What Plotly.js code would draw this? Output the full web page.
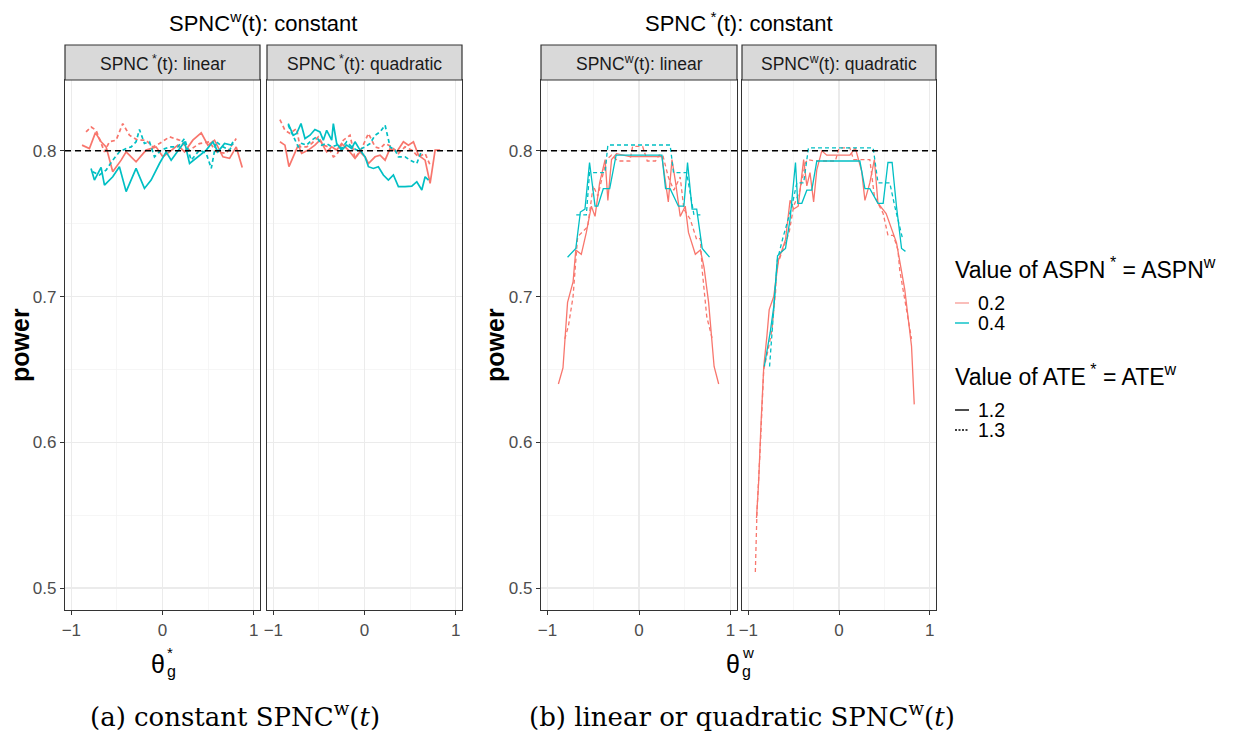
<!DOCTYPE html>
<html>
<head>
<meta charset="utf-8">
<script src="https://cdn.plot.ly/plotly-3.0.1.min.js"></script>
<style>
html,body{margin:0;padding:0;background:#fff;}
#chart{width:1246px;height:735px;}
</style>
</head>
<body>
<div id="chart"></div>
<script>
// ---------------- DATA ----------------
// Panel 1: SPNC^w constant, SPNC* linear  (x = theta_g^*)
var p1_r12_x = [-0.883,-0.802,-0.736,-0.674,-0.619,-0.546,-0.454,-0.399,-0.290,-0.180,-0.070,0.004,0.077,0.168,0.242,0.333,0.425,0.498,0.571,0.663,0.736,0.809,0.875];
var p1_r12_y = [0.8039,0.8016,0.8125,0.8062,0.8027,0.7856,0.7936,0.7993,0.7925,0.8005,0.8027,0.7959,0.7993,0.8039,0.7993,0.8073,0.8123,0.8039,0.8073,0.7959,0.7948,0.8027,0.7886];
var p1_r13_x = [-0.839,-0.784,-0.729,-0.637,-0.583,-0.509,-0.436,-0.363,-0.271,-0.180,-0.106,-0.033,0.077,0.187,0.297,0.406,0.516,0.590,0.700,0.809];
var p1_r13_y = [0.8130,0.8164,0.8141,0.7993,0.8062,0.8073,0.8187,0.8107,0.8073,0.8073,0.8027,0.8050,0.8096,0.8073,0.8005,0.8050,0.8062,0.7993,0.7982,0.8084];
var p1_c12_x = [-0.784,-0.747,-0.674,-0.637,-0.546,-0.473,-0.399,-0.290,-0.198,-0.125,-0.033,0.040,0.095,0.150,0.242,0.297,0.388,0.480,0.553,0.608,0.681,0.755,0.773];
var p1_c12_y = [0.7879,0.7799,0.7886,0.7765,0.7822,0.7891,0.7720,0.7879,0.7742,0.7799,0.7913,0.7993,0.7936,0.7982,0.8062,0.7913,0.7959,0.8005,0.8062,0.7993,0.8050,0.8039,0.8062];
var p1_c13_x = [-0.766,-0.692,-0.619,-0.546,-0.473,-0.399,-0.344,-0.290,-0.253,-0.198,-0.143,-0.088,-0.015,0.077,0.168,0.242,0.315,0.406,0.480,0.535,0.590,0.663,0.736,0.773];
var p1_c13_y = [0.7856,0.7834,0.7868,0.7936,0.7993,0.8016,0.8027,0.8062,0.8146,0.8050,0.8062,0.7959,0.8005,0.8027,0.8027,0.8084,0.7936,0.8005,0.7982,0.7879,0.8062,0.8027,0.8005,0.8050];

// Panel 2: SPNC^w constant, SPNC* quadratic
var p2_r12_x = [-0.928,-0.873,-0.829,-0.782,-0.727,-0.690,-0.617,-0.544,-0.489,-0.415,-0.360,-0.305,-0.251,-0.177,-0.104,-0.049,0.006,0.043,0.116,0.171,0.226,0.281,0.354,0.427,0.482,0.537,0.592,0.665,0.720,0.775,0.830];
var p2_r12_y = [0.8062,0.8039,0.7891,0.7959,0.8039,0.7982,0.8005,0.8039,0.8073,0.7993,0.8027,0.8005,0.8050,0.8005,0.7948,0.7993,0.7959,0.7913,0.7959,0.7970,0.7936,0.8016,0.7993,0.8062,0.8039,0.8062,0.7970,0.7936,0.7777,0.8005,0.8005];
var p2_r13_x = [-0.928,-0.873,-0.818,-0.745,-0.708,-0.635,-0.580,-0.507,-0.452,-0.397,-0.342,-0.305,-0.232,-0.159,-0.104,-0.031,0.043,0.116,0.171,0.226,0.299,0.372,0.445,0.519,0.592,0.665,0.720,0.739];
var p2_r13_y = [0.8214,0.8141,0.8119,0.8153,0.8027,0.8027,0.8050,0.8096,0.8039,0.8027,0.7959,0.7970,0.8073,0.8107,0.7948,0.8016,0.8119,0.8027,0.8016,0.8050,0.8027,0.7982,0.8027,0.8005,0.7959,0.7982,0.7902,0.7895];
var p2_c12_x = [-0.837,-0.782,-0.745,-0.697,-0.653,-0.598,-0.544,-0.489,-0.452,-0.415,-0.360,-0.342,-0.305,-0.251,-0.196,-0.141,-0.104,-0.049,0.006,0.043,0.097,0.152,0.207,0.262,0.317,0.372,0.445,0.519,0.574,0.629,0.665,0.702];
var p2_c12_y = [0.8187,0.8107,0.8119,0.8187,0.8084,0.8107,0.8146,0.8130,0.8073,0.8141,0.8073,0.8187,0.8050,0.8005,0.8039,0.8016,0.8062,0.8005,0.7959,0.7891,0.7879,0.7891,0.7834,0.7799,0.7834,0.7754,0.7754,0.7758,0.7788,0.7731,0.7822,0.7799];
var p2_c13_x = [-0.837,-0.782,-0.727,-0.690,-0.635,-0.580,-0.525,-0.470,-0.415,-0.360,-0.305,-0.251,-0.196,-0.141,-0.086,-0.031,0.006,0.061,0.116,0.171,0.226,0.281,0.336,0.372,0.445,0.500,0.574,0.629];
var p2_c13_y = [0.8176,0.8096,0.8027,0.8050,0.8039,0.8073,0.8096,0.8039,0.8050,0.8027,0.8039,0.8016,0.8062,0.8027,0.8005,0.8016,0.8027,0.8050,0.8107,0.8130,0.8176,0.8027,0.8005,0.7959,0.7959,0.7936,0.7913,0.8005];

// Panel 3: SPNC* constant, SPNC^w linear  (x = theta_g^w)
var p3_r12_x = [-0.88,-0.83,-0.78,-0.72,-0.69,-0.63,-0.575,-0.52,-0.48,-0.43,-0.37,-0.34,-0.30,-0.245,-0.10,0.10,0.25,0.32,0.36,0.40,0.45,0.505,0.54,0.615,0.67,0.71,0.76,0.82,0.87];
var p3_r12_y = [0.640,0.651,0.696,0.710,0.732,0.729,0.744,0.762,0.755,0.778,0.794,0.766,0.794,0.798,0.796,0.796,0.796,0.765,0.794,0.778,0.755,0.762,0.744,0.729,0.732,0.720,0.696,0.652,0.640];
var p3_r13_x = [-0.81,-0.77,-0.72,-0.67,-0.56,-0.50,-0.45,-0.39,-0.355,-0.30,-0.23,-0.10,-0.07,0.04,0.09,0.18,0.22,0.26,0.32,0.38,0.45,0.49,0.56,0.63,0.67,0.69,0.74,0.80];
var p3_r13_y = [0.671,0.680,0.700,0.741,0.748,0.776,0.769,0.785,0.794,0.797,0.793,0.793,0.803,0.803,0.793,0.793,0.797,0.797,0.782,0.773,0.782,0.760,0.753,0.739,0.740,0.718,0.686,0.671];
var p3_c12_x = [-0.78,-0.69,-0.64,-0.59,-0.54,-0.48,-0.45,-0.39,-0.32,-0.25,0.25,0.29,0.34,0.43,0.49,0.53,0.58,0.63,0.69,0.77];
var p3_c12_y = [0.727,0.733,0.758,0.760,0.792,0.762,0.762,0.774,0.774,0.797,0.797,0.774,0.774,0.762,0.762,0.792,0.760,0.760,0.733,0.727];
var p3_c13_x = [-0.685,-0.575,-0.54,-0.37,-0.34,0.34,0.377,0.52,0.60,0.67];
var p3_c13_y = [0.756,0.756,0.785,0.785,0.804,0.804,0.785,0.785,0.756,0.756];

// Panel 4: SPNC* constant, SPNC^w quadratic
var p4_r12_x = [-0.91,-0.887,-0.86,-0.83,-0.795,-0.77,-0.72,-0.68,-0.667,-0.59,-0.54,-0.50,-0.45,-0.39,-0.355,-0.32,-0.28,-0.245,-0.19,-0.135,0.12,0.18,0.25,0.286,0.34,0.39,0.43,0.52,0.58,0.634,0.725,0.76,0.80,0.83];
var p4_r12_y = [0.548,0.572,0.613,0.652,0.673,0.691,0.700,0.718,0.725,0.739,0.766,0.760,0.762,0.794,0.776,0.785,0.765,0.787,0.800,0.797,0.797,0.802,0.786,0.766,0.778,0.794,0.764,0.757,0.746,0.737,0.705,0.686,0.666,0.626];
var p4_r13_x = [-0.923,-0.905,-0.87,-0.83,-0.78,-0.74,-0.70,-0.685,-0.55,-0.50,-0.43,-0.37,-0.34,-0.26,-0.04,0.00,0.12,0.16,0.34,0.39,0.487,0.54,0.60,0.65,0.67,0.744,0.80];
var p4_r13_y = [0.511,0.552,0.595,0.650,0.664,0.677,0.703,0.721,0.744,0.762,0.773,0.792,0.794,0.793,0.793,0.802,0.802,0.794,0.794,0.769,0.757,0.742,0.742,0.732,0.718,0.691,0.671];
var p4_c12_x = [-0.824,-0.76,-0.72,-0.678,-0.63,-0.59,-0.54,-0.48,-0.455,-0.41,-0.355,-0.30,-0.245,0.23,0.286,0.34,0.43,0.487,0.54,0.586,0.634,0.69,0.733];
var p4_c12_y = [0.652,0.675,0.693,0.728,0.731,0.733,0.753,0.792,0.764,0.764,0.773,0.773,0.793,0.793,0.774,0.774,0.764,0.764,0.792,0.792,0.762,0.733,0.731];
var p4_c13_x = [-0.766,-0.72,-0.68,-0.62,-0.52,-0.465,-0.39,-0.337,0.377,0.43,0.56,0.615,0.70];
var p4_c13_y = [0.652,0.690,0.725,0.740,0.762,0.778,0.778,0.802,0.802,0.778,0.778,0.762,0.740];

var targetPower = 0.8;
var yTickVals = [0.5, 0.6, 0.7, 0.8];
var yTickText = ["0.5", "0.6", "0.7", "0.8"];
var xTickVals = [-1, 0, 1];
var xTickText = ["\u22121", "0", "1"];
var aspnLevels = ["0.2", "0.4"];
var ateLevels = ["1.2", "1.3"];

var panelTitles = ["SPNC<sup> *</sup>(t): linear", "SPNC<sup> *</sup>(t): quadratic",
                   "SPNC<sup>w</sup>(t): linear", "SPNC<sup>w</sup>(t): quadratic"];
var groupTitles = ["SPNC<sup>w</sup>(t): constant", "SPNC<sup> *</sup>(t): constant"];
var captions = ["(a) constant SPNC<sup>w</sup>(<i>t</i>)", "(b) linear or quadratic SPNC<sup>w</sup>(<i>t</i>)"];

// ---------------- STYLE / LAYOUT ----------------
var W = 1246, H = 735;
function fx(p){ return p / W; }
function fy(p){ return 1 - p / H; }
var RED = "#F8766D", CYAN = "#00BFC4";
var FONT = "Liberation Sans, Arial, sans-serif";

var panels = [
  {x0: 65,  x1: 260, data: [[p1_r12_x,p1_r12_y,RED,"solid"],[p1_r13_x,p1_r13_y,RED,"dash"],[p1_c12_x,p1_c12_y,CYAN,"solid"],[p1_c13_x,p1_c13_y,CYAN,"dash"]], lw: 1.7, yl: true},
  {x0: 267, x1: 462, data: [[p2_r12_x,p2_r12_y,RED,"solid"],[p2_r13_x,p2_r13_y,RED,"dash"],[p2_c12_x,p2_c12_y,CYAN,"solid"],[p2_c13_x,p2_c13_y,CYAN,"dash"]], lw: 1.7, yl: false},
  {x0: 541, x1: 737, data: [[p3_r12_x,p3_r12_y,RED,"solid"],[p3_r13_x,p3_r13_y,RED,"dash"],[p3_c12_x,p3_c12_y,CYAN,"solid"],[p3_c13_x,p3_c13_y,CYAN,"dash"]], lw: 1.3, yl: true},
  {x0: 742, x1: 936, data: [[p4_r12_x,p4_r12_y,RED,"solid"],[p4_r13_x,p4_r13_y,RED,"dash"],[p4_c12_x,p4_c12_y,CYAN,"solid"],[p4_c13_x,p4_c13_y,CYAN,"dash"]], lw: 1.3, yl: false}
];
var plotTop = 80, plotBot = 610, stripTop = 45;

var traces = [];
var layout = {
  width: W, height: H,
  margin: {l:0, r:0, t:0, b:0},
  paper_bgcolor: "#fff", plot_bgcolor: "#fff",
  showlegend: false,
  font: {family: FONT, color: "#000"},
  shapes: [], annotations: []
};

panels.forEach(function(p, i){
  var n = i + 1;
  var xa = n === 1 ? "xaxis" : "xaxis" + n;
  var ya = n === 1 ? "yaxis" : "yaxis" + n;
  var xr = n === 1 ? "x" : "x" + n;
  var yr = n === 1 ? "y" : "y" + n;
  p.data.forEach(function(d){
    traces.push({x: d[0], y: d[1], type: "scatter", mode: "lines",
      xaxis: xr, yaxis: yr, hoverinfo: "skip",
      line: {color: d[2], width: p.lw, dash: d[3] === "dash" ? "4px,3px" : "solid"}});
  });
  layout[xa] = {
    domain: [fx(p.x0), fx(p.x1)], anchor: yr, range: [-1.07, 1.07],
    tickvals: xTickVals, ticktext: xTickText, ticks: "outside", ticklen: 4, tickcolor: "#333",
    tickfont: {family: FONT, size: 17, color: "#4d4d4d"},
    showgrid: true, gridcolor: "#ebebeb", gridwidth: 1.2, zeroline: false,
    minor: {tickvals: [-0.5, 0.5], showgrid: true, gridcolor: "#f4f4f4", gridwidth: 0.8, ticks: ""},
    showline: true, linecolor: "#333", linewidth: 1.2, mirror: true, fixedrange: true
  };
  layout[ya] = {
    domain: [fy(plotBot), fy(plotTop)], anchor: xr, range: [0.4849, 0.8486],
    tickvals: yTickVals, ticktext: yTickText, ticks: p.yl ? "outside" : "", ticklen: 4, tickcolor: "#333",
    showticklabels: p.yl,
    tickfont: {family: FONT, size: 17, color: "#4d4d4d"},
    showgrid: true, gridcolor: "#ebebeb", gridwidth: 1.2, zeroline: false,
    minor: {tickvals: [0.55, 0.65, 0.75], showgrid: true, gridcolor: "#f4f4f4", gridwidth: 0.8, ticks: ""},
    showline: true, linecolor: "#333", linewidth: 1.2, mirror: true, fixedrange: true
  };
  // reference line
  layout.shapes.push({type: "line", xref: xr + " domain", yref: yr, x0: 0, x1: 1,
    y0: targetPower, y1: targetPower, line: {color: "#000", width: 1.5, dash: "6px,4px"}});
  // strip
  layout.shapes.push({type: "rect", xref: "paper", yref: "paper",
    x0: fx(p.x0), x1: fx(p.x1), y0: fy(plotTop), y1: fy(stripTop),
    fillcolor: "#d9d9d9", line: {color: "#333", width: 1.2}});
  layout.annotations.push({xref: "paper", yref: "paper", x: fx((p.x0 + p.x1) / 2), y: fy(63),
    text: panelTitles[i], showarrow: false, xanchor: "center", yanchor: "middle",
    font: {family: FONT, size: 17.5, color: "#1a1a1a"}});
});

// group titles
layout.annotations.push({xref:"paper", yref:"paper", x: fx(263), y: fy(22), text: groupTitles[0],
  showarrow:false, xanchor:"center", yanchor:"middle", font:{family: FONT, size: 22, color:"#000"}});
layout.annotations.push({xref:"paper", yref:"paper", x: fx(739), y: fy(22), text: groupTitles[1],
  showarrow:false, xanchor:"center", yanchor:"middle", font:{family: FONT, size: 22, color:"#000"}});

// y axis titles
[20, 495].forEach(function(px){
  layout.annotations.push({xref:"paper", yref:"paper", x: fx(px), y: fy(345), text: "<b>power</b>",
    textangle: -90, showarrow:false, xanchor:"center", yanchor:"middle",
    font:{family: FONT, size: 25, color:"#000"}});
});

// x axis titles: theta with stacked super/subscripts
[[158, "*"], [733, "w"]].forEach(function(t){
  layout.annotations.push({xref:"paper", yref:"paper", x: fx(t[0]), y: fy(664), text: "\u03b8",
    showarrow:false, xanchor:"center", yanchor:"middle", font:{family: FONT, size: 25, color:"#000"}});
  layout.annotations.push({xref:"paper", yref:"paper", x: fx(t[0] + 7), y: fy(652), text: t[1],
    showarrow:false, xanchor:"left", yanchor:"middle", font:{family: FONT, size: 15, color:"#000"}});
  layout.annotations.push({xref:"paper", yref:"paper", x: fx(t[0] + 7), y: fy(671), text: "g",
    showarrow:false, xanchor:"left", yanchor:"middle", font:{family: FONT, size: 16, color:"#000"}});
});

// legend (drawn manually)
layout.annotations.push({xref:"paper", yref:"paper", x: fx(953), y: fy(268),
  text: "Value of ASPN<sup> *</sup> = ASPN<sup>w</sup>", showarrow:false, xanchor:"left", yanchor:"middle",
  font:{family: FONT, size: 23, color:"#000"}});
layout.annotations.push({xref:"paper", yref:"paper", x: fx(953), y: fy(375),
  text: "Value of ATE<sup> *</sup> = ATE<sup>w</sup>", showarrow:false, xanchor:"left", yanchor:"middle",
  font:{family: FONT, size: 23, color:"#000"}});
var legendItems = [
  [303, aspnLevels[0], "#F8A29C", "solid"],
  [323, aspnLevels[1], CYAN, "solid"],
  [410, ateLevels[0], "#000", "solid"],
  [430, ateLevels[1], "#000", "dot"]
];
legendItems.forEach(function(it){
  layout.shapes.push({type:"line", xref:"paper", yref:"paper", x0: fx(955), x1: fx(969),
    y0: fy(it[0]), y1: fy(it[0]), line:{color: it[2], width: 1.4, dash: it[3] === "dot" ? "2px,1.5px" : "solid"}});
  layout.annotations.push({xref:"paper", yref:"paper", x: fx(976), y: fy(it[0]), text: it[1],
    showarrow:false, xanchor:"left", yanchor:"middle", font:{family: FONT, size: 19.5, color:"#000"}});
});

// captions
layout.annotations.push({xref:"paper", yref:"paper", x: fx(235), y: fy(715), text: captions[0],
  showarrow:false, xanchor:"center", yanchor:"middle", font:{family: "DejaVu Serif, Liberation Serif, serif", size: 26, color:"#000"}});
layout.annotations.push({xref:"paper", yref:"paper", x: fx(742), y: fy(715), text: captions[1],
  showarrow:false, xanchor:"center", yanchor:"middle", font:{family: "DejaVu Serif, Liberation Serif, serif", size: 26, color:"#000"}});

Plotly.newPlot("chart", traces, layout, {displayModeBar: false, staticPlot: true});
</script>
</body>
</html>
